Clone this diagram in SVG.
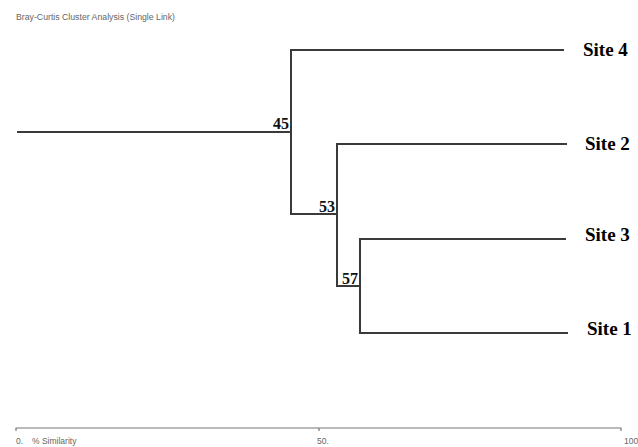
<svg xmlns="http://www.w3.org/2000/svg" width="638" height="447" viewBox="0 0 638 447">
<style>
.br{fill:none;stroke:#3a3a3a;stroke-width:2;stroke-linecap:square}
.ax{fill:none;stroke:#777;stroke-width:1.2}
.site{font-family:"Liberation Serif",serif;font-weight:bold;font-size:19px;fill:#000}
.val{font-family:"Liberation Serif",serif;font-weight:bold;font-size:16px;fill:#111;text-anchor:end}
.sm{font-family:"Liberation Sans",Arial,sans-serif;font-size:8.5px;fill:#666}
</style>
<rect width="638" height="447" fill="#fff"/>
<text class="sm" x="16" y="20" textLength="159" lengthAdjust="spacingAndGlyphs">Bray-Curtis Cluster Analysis (Single Link)</text>
<g id="connectors">
<path class="br" d="M18,132 H291"/>
<path class="br" d="M563,50 H291 V214 H337"/>
<path class="br" d="M566,144 H337 V286 H360"/>
<path class="br" d="M565,239 H360 V333 H567"/>
</g>
<g id="node-45"><text class="val" x="289" y="129">45</text></g>
<g id="node-53"><text class="val" x="335" y="212">53</text></g>
<g id="node-57"><text class="val" x="358" y="284">57</text></g>
<g id="site-4"><text class="site" x="583" y="56">Site 4</text></g>
<g id="site-2"><text class="site" x="585" y="150">Site 2</text></g>
<g id="site-3"><text class="site" x="585" y="241">Site 3</text></g>
<g id="site-1"><text class="site" x="587" y="335">Site 1</text></g>
<g id="axis">
<path class="ax" d="M16,431 V428 H621 V431 M319,428 V431"/>
<text class="sm" x="16" y="444">0.</text>
<text class="sm" x="32" y="444">% Similarity</text>
<text class="sm" x="317" y="444">50.</text>
<text class="sm" x="624" y="444">100</text>
</g>
</svg>
